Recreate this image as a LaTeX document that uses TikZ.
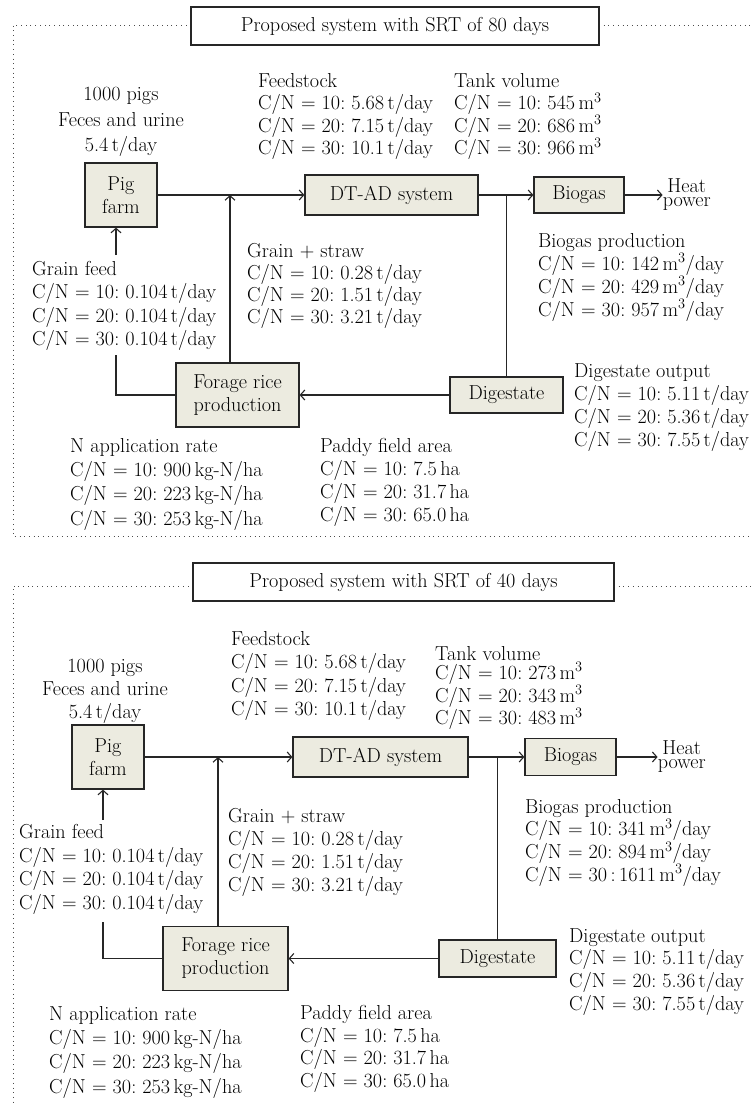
\documentclass[tikz,border=0pt]{standalone}
\usepackage{tikz}
\usetikzlibrary{arrows.meta}
\usetikzlibrary{positioning}

\definecolor{boxfill}{RGB}{236,235,224}
\newcommand{\bodyfont}[1]{\fontsize{20.2}{#1}\selectfont}
\frenchspacing

\tikzset{
  blk/.style={draw=black!85, line width=1.2pt, fill=boxfill, align=center, inner sep=0pt, font=\bodyfont{23}},
  titlebox/.style={draw=black!85, line width=1.2pt, fill=white, inner sep=0pt, font=\bodyfont{23}},
  txt/.style={anchor=north west, inner sep=0pt, align=left},
  arr/.style={draw=black!85, line width=1.1pt, -{Straight Barb[length=4.5pt,width=10pt]}},
  conn/.style={draw=black!85, line width=1.1pt},
  dotframe/.style={draw=black!70, line width=0.8pt, dash pattern=on 0.8pt off 3.9pt}
}

\begin{document}
\begin{tikzpicture}[x=1pt,y=-1pt]
\useasboundingbox (0,0) rectangle (752,1103);

% SRT of 80 days
\draw[dotframe] (191,25) -- (13,25) -- (13,536) -- (752,536);
\draw[dotframe] (599,25) -- (752,25);
\node[titlebox, minimum width=408pt, minimum height=38pt] (titleA) at (395,26) {Proposed system with SRT of 80 days};

\node[blk, minimum width=72pt, minimum height=64pt] (farmA) at (121,195) {Pig\\farm};
\node[blk, minimum width=173pt, minimum height=40pt] (dtadA) at (391.5,195) {DT-AD system};
\node[blk, minimum width=90pt, minimum height=36pt] (biogasA) at (579,195) {Biogas};
\node[blk, minimum width=113pt, minimum height=36pt] (digA) at (506.5,395) {Digestate};
\node[blk, minimum width=123pt, minimum height=64pt] (forageA) at (237.5,395) {Forage rice\\production};
\node[right=38pt of biogasA, inner sep=0pt, align=center, font=\bodyfont{14}] (heatA) {Heat\\power};

\node[anchor=north, inner sep=0pt, align=center, font=\bodyfont{25.5}] (pigsA) at (121,87) {1000 pigs\\Feces and urine\\5.4\,t/day};
\node[txt, font=\bodyfont{22.5}] (feedA) at (258,73) {Feedstock\\C/N = 10: 5.68\,t/day\\C/N = 20: 7.15\,t/day\\C/N = 30: 10.1\,t/day};
\node[txt, font=\bodyfont{22.5}] (tankA) at (454,73) {Tank volume\\C/N = 10: 545\,m$^3$\\C/N = 20: 686\,m$^3$\\C/N = 30: 966\,m$^3$};
\node[txt, font=\bodyfont{23.5}] (grainA) at (32,261) {Grain feed\\C/N = 10: 0.104\,t/day\\C/N = 20: 0.104\,t/day\\C/N = 30: 0.104\,t/day};
\node[txt, font=\bodyfont{22}] (strawA) at (247,243) {Grain + straw\\C/N = 10: 0.28\,t/day\\C/N = 20: 1.51\,t/day\\C/N = 30: 3.21\,t/day};
\node[txt, font=\bodyfont{23}] (bprodA) at (538,233) {Biogas production\\C/N = 10: 142\,m$^3$/day\\C/N = 20: 429\,m$^3$/day\\C/N = 30: 957\,m$^3$/day};
\node[txt, font=\bodyfont{23}] (digoutA) at (574,363) {Digestate output\\C/N = 10: 5.11\,t/day\\C/N = 20: 5.36\,t/day\\C/N = 30: 7.55\,t/day};
\node[txt, font=\bodyfont{24.3}] (nappA) at (70,438) {N application rate\\C/N = 10: 900\,kg-N/ha\\C/N = 20: 223\,kg-N/ha\\C/N = 30: 253\,kg-N/ha};
\node[txt, font=\bodyfont{23}] (paddyA) at (320,438) {Paddy field area\\C/N = 10: 7.5\,ha\\C/N = 20: 31.7\,ha\\C/N = 30: 65.0\,ha};

\coordinate (gfinA) at (116,255);
\coordinate (gfendA) at (116,355);
\draw[arr] (farmA.east) -- (dtadA.west);
\draw[arr] (dtadA.east) -- (biogasA.west);
\draw[arr] (biogasA.east) -- (heatA.west);
\draw[conn] (digA.north) -- (digA.north |- dtadA.east);
\draw[arr] (digA.west) -- (forageA.east);
\draw[arr] ([xshift=-7.5pt]forageA.north) -- ([xshift=-7.5pt]forageA.north |- farmA.east);
\draw[conn] (forageA.west) -| (gfendA);
\draw[arr] (gfinA) -- (gfinA |- farmA.south);

% SRT of 40 days
\draw[dotframe] (193,586) -- (13,586) -- (13,1103);
\draw[dotframe] (614,586) -- (752,586);
\node[titlebox, minimum width=421pt, minimum height=38pt] (titleB) at (403.5,582) {Proposed system with SRT of 40 days};

\node[blk, minimum width=72pt, minimum height=64pt] (farmB) at (108,757) {Pig\\farm};
\node[blk, minimum width=175pt, minimum height=40pt] (dtadB) at (380.5,757) {DT-AD system};
\node[blk, minimum width=91pt, minimum height=37pt] (biogasB) at (570.5,757) {Biogas};
\node[blk, minimum width=117pt, minimum height=37pt] (digB) at (497.5,958.5) {Digestate};
\node[blk, minimum width=125pt, minimum height=64pt] (forageB) at (225.5,958.5) {Forage rice\\production};
\node[right=41pt of biogasB, inner sep=0pt, align=center, font=\bodyfont{14}] (heatB) {Heat\\power};

\node[anchor=north, inner sep=0pt, align=center, font=\bodyfont{23}] (pigsB) at (105,659) {1000 pigs\\Feces and urine\\5.4\,t/day};
\node[txt, font=\bodyfont{23.5}] (feedB) at (231,631) {Feedstock\\C/N = 10: 5.68\,t/day\\C/N = 20: 7.15\,t/day\\C/N = 30: 10.1\,t/day};
\node[txt, font=\bodyfont{19}] (tankB) at (435,646) {Tank volume\\C/N = 10: 273\,m$^3$\\C/N = 20: 343\,m$^3$\\C/N = 30: 483\,m$^3$};
\node[txt, font=\bodyfont{23.7}] (grainB) at (19,824) {Grain feed\\C/N = 10: 0.104\,t/day\\C/N = 20: 0.104\,t/day\\C/N = 30: 0.104\,t/day};
\node[txt, font=\bodyfont{23}] (strawB) at (228,808) {Grain + straw\\C/N = 10: 0.28\,t/day\\C/N = 20: 1.51\,t/day\\C/N = 30: 3.21\,t/day};
\node[txt, font=\bodyfont{22.7}] (bprodB) at (525,799) {Biogas production\\C/N = 10: 341\,m$^3$/day\\C/N = 20: 894\,m$^3$/day\\C/N = 30\,:\,1611\,m$^3$/day};
\node[txt, font=\bodyfont{22.7}] (digoutB) at (569,928) {Digestate output\\C/N = 10: 5.11\,t/day\\C/N = 20: 5.36\,t/day\\C/N = 30: 7.55\,t/day};
\node[txt, font=\bodyfont{24.3}] (nappB) at (49,1006) {N application rate\\C/N = 10: 900\,kg-N/ha\\C/N = 20: 223\,kg-N/ha\\C/N = 30: 253\,kg-N/ha};
\node[txt, font=\bodyfont{22.7}] (paddyB) at (300,1005) {Paddy field area\\C/N = 10: 7.5\,ha\\C/N = 20: 31.7\,ha\\C/N = 30: 65.0\,ha};

\coordinate (gfinB) at (103,820);
\coordinate (gfendB) at (103,922);
\draw[arr] (farmB.east) -- (dtadB.west);
\draw[arr] (dtadB.east) -- (biogasB.west);
\draw[arr] (biogasB.east) -- (heatB.west);
\draw[conn] (digB.north) -- (digB.north |- dtadB.east);
\draw[arr] (digB.west) -- (forageB.east);
\draw[arr] ([xshift=-7.5pt]forageB.north) -- ([xshift=-7.5pt]forageB.north |- farmB.east);
\draw[conn] (forageB.west) -| (gfendB);
\draw[arr] (gfinB) -- (gfinB |- farmB.south);

\end{tikzpicture}
\end{document}
